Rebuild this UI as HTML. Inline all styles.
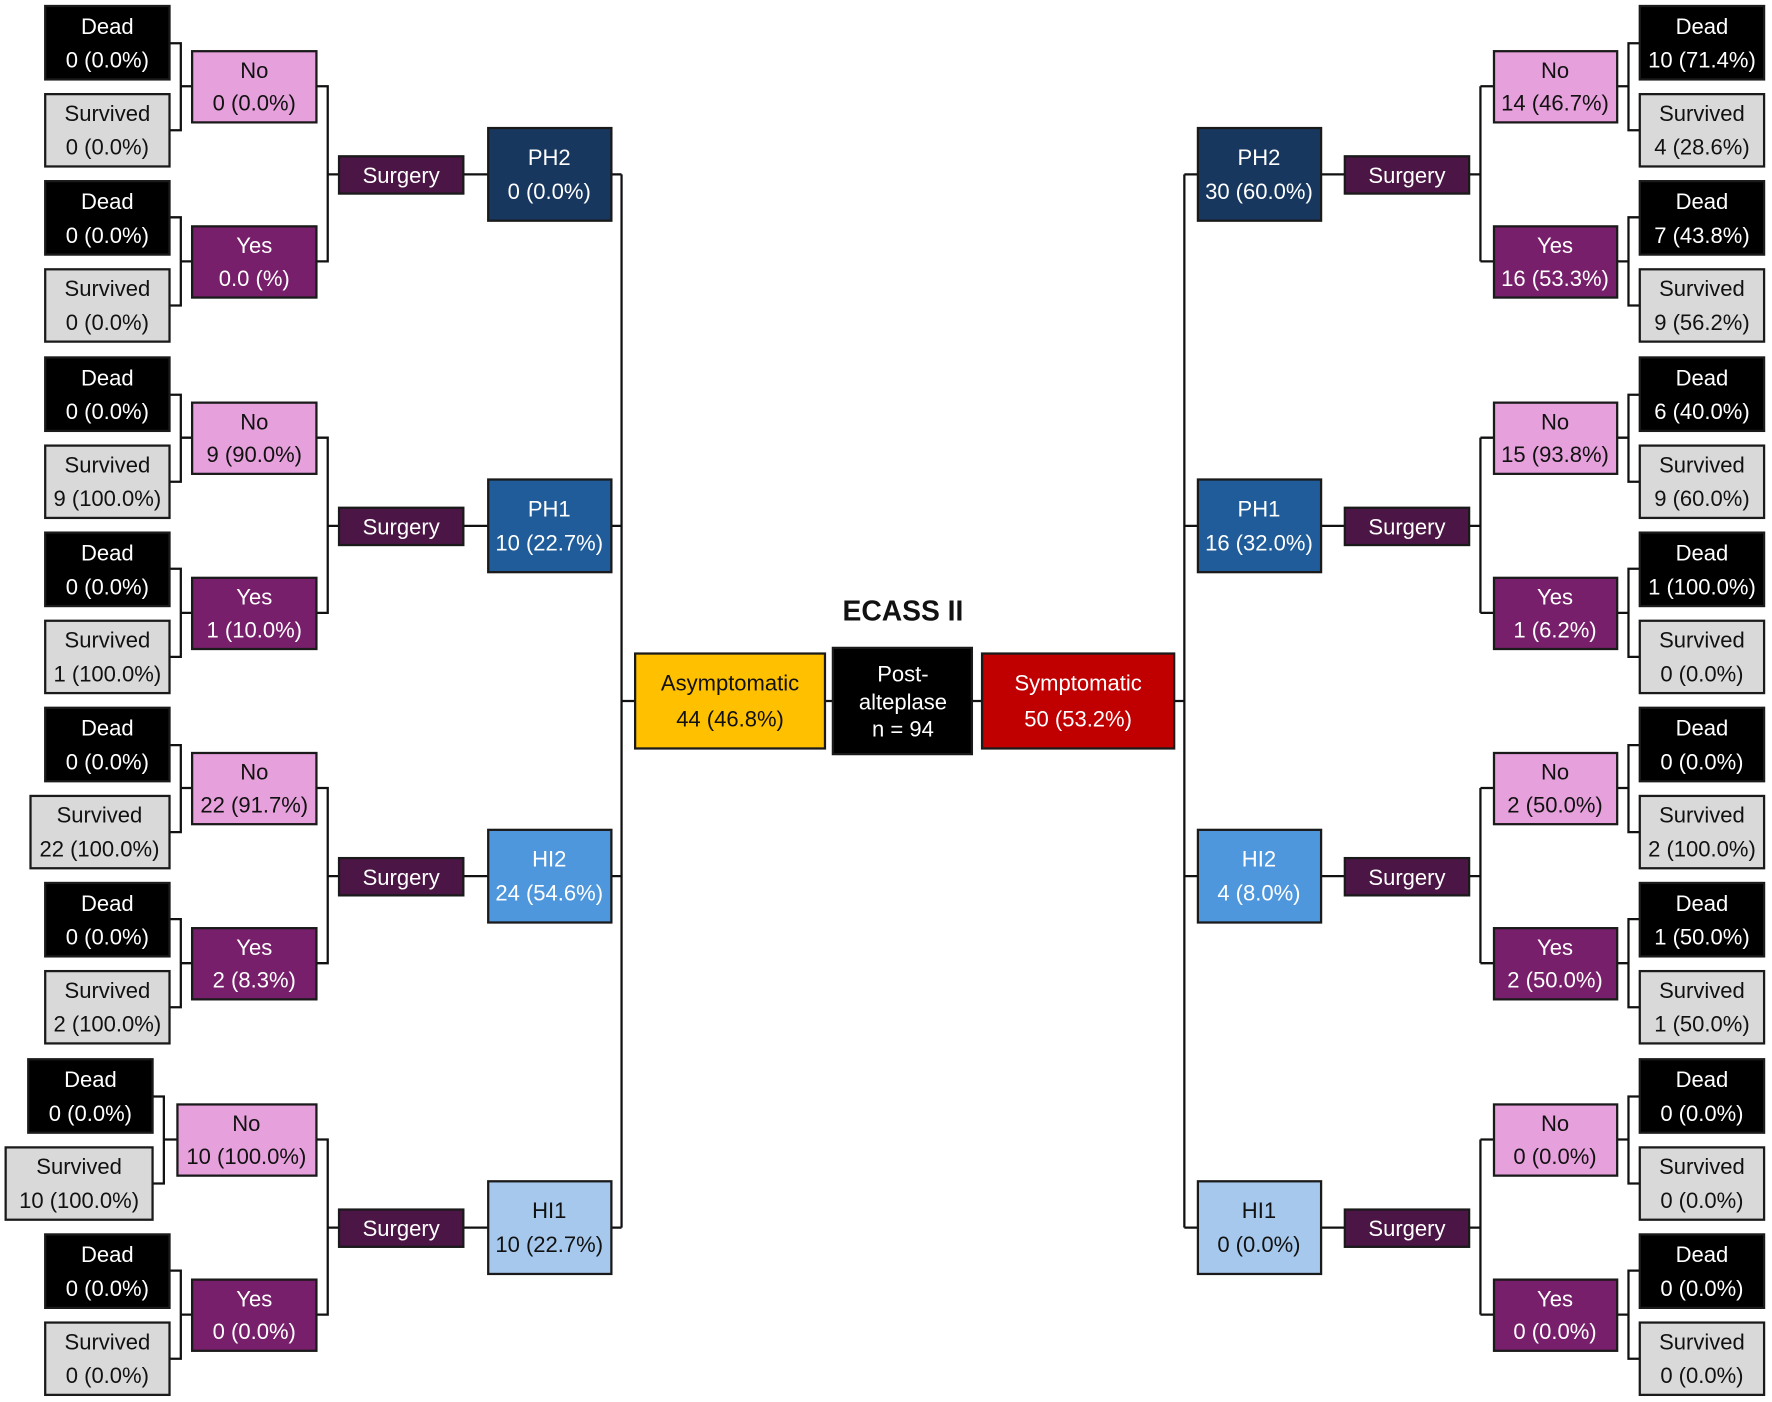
<!DOCTYPE html>
<html><head><meta charset="utf-8"><style>
html,body{margin:0;padding:0;background:#fff}
svg{display:block}
text{font-family:"Liberation Sans","DejaVu Sans",sans-serif;font-size:19.5px;text-anchor:middle;dominant-baseline:central}
.w{fill:#fff}.k{fill:#111}
rect{stroke:#1a1a1a;stroke-width:2}
path{fill:none;stroke:#111;stroke-width:2}
.D{fill:#000}.S{fill:#d9d9d9}.N{fill:#e6a0dc}.Y{fill:#771f6b}.G{fill:#4b1545}
</style></head><body>
<svg width="1772" height="1402" viewBox="0 0 1568 1240" xmlns="http://www.w3.org/2000/svg">
<!-- center -->
<text x="799" y="540" style="font-weight:bold;font-size:25px" class="k">ECASS II</text>
<path d="M550 154V1086M550 620H562M730 620H737M860 620H869M1039 620H1048M1048 154V1086"/>
<rect x="562" y="578" width="168" height="84" fill="#ffc000"/>
<text x="646" y="604" class="k">Asymptomatic</text><text x="646" y="636" class="k">44 (46.8%)</text>
<rect x="737" y="573" width="123" height="94" fill="#000"/>
<text x="799" y="596" class="w">Post-</text><text x="799" y="621" class="w">alteplase</text><text x="799" y="645" class="w">n = 94</text>
<rect x="869" y="578" width="170" height="84" fill="#c00000"/>
<text x="954" y="604" class="w">Symptomatic</text><text x="954" y="636" class="w">50 (53.2%)</text>

<!-- LEFT PH2 -->
<g>
<path d="M150 38H160V115H150M160 76H170M150 192H160V270H150M160 231H170M280 76H290V231H280M290 154H300M410 154H432M541 154H550"/>
<rect class="D" x="40" y="5" width="110" height="65"/><text class="w" x="95" y="23">Dead</text><text class="w" x="95" y="53">0 (0.0%)</text>
<rect class="S" x="40" y="83" width="110" height="64"/><text class="k" x="95" y="100">Survived</text><text class="k" x="95" y="130">0 (0.0%)</text>
<rect class="D" x="40" y="160" width="110" height="65"/><text class="w" x="95" y="178">Dead</text><text class="w" x="95" y="208">0 (0.0%)</text>
<rect class="S" x="40" y="238" width="110" height="64"/><text class="k" x="95" y="255">Survived</text><text class="k" x="95" y="285">0 (0.0%)</text>
<rect class="N" x="170" y="45" width="110" height="63"/><text class="k" x="225" y="62">No</text><text class="k" x="225" y="91">0 (0.0%)</text>
<rect class="Y" x="170" y="200" width="110" height="63"/><text class="w" x="225" y="217">Yes</text><text class="w" x="225" y="246">0.0 (%)</text>
<rect class="G" x="300" y="138" width="110" height="33"/><text class="w" x="355" y="155">Surgery</text>
<rect x="432" y="113" width="109" height="82" fill="#17375e"/><text class="w" x="486" y="139">PH2</text><text class="w" x="486" y="169">0 (0.0%)</text>
</g>
<!-- LEFT PH1 -->
<g transform="translate(0,311)">
<path d="M150 38H160V115H150M160 76H170M150 192H160V270H150M160 231H170M280 76H290V231H280M290 154H300M410 154H432M541 154H550"/>
<rect class="D" x="40" y="5" width="110" height="65"/><text class="w" x="95" y="23">Dead</text><text class="w" x="95" y="53">0 (0.0%)</text>
<rect class="S" x="40" y="83" width="110" height="64"/><text class="k" x="95" y="100">Survived</text><text class="k" x="95" y="130">9 (100.0%)</text>
<rect class="D" x="40" y="160" width="110" height="65"/><text class="w" x="95" y="178">Dead</text><text class="w" x="95" y="208">0 (0.0%)</text>
<rect class="S" x="40" y="238" width="110" height="64"/><text class="k" x="95" y="255">Survived</text><text class="k" x="95" y="285">1 (100.0%)</text>
<rect class="N" x="170" y="45" width="110" height="63"/><text class="k" x="225" y="62">No</text><text class="k" x="225" y="91">9 (90.0%)</text>
<rect class="Y" x="170" y="200" width="110" height="63"/><text class="w" x="225" y="217">Yes</text><text class="w" x="225" y="246">1 (10.0%)</text>
<rect class="G" x="300" y="138" width="110" height="33"/><text class="w" x="355" y="155">Surgery</text>
<rect x="432" y="113" width="109" height="82" fill="#1f5c99"/><text class="w" x="486" y="139">PH1</text><text class="w" x="486" y="169">10 (22.7%)</text>
</g>
<!-- LEFT HI2 -->
<g transform="translate(0,621)">
<path d="M150 38H160V115H150M160 76H170M150 192H160V270H150M160 231H170M280 76H290V231H280M290 154H300M410 154H432M541 154H550"/>
<rect class="D" x="40" y="5" width="110" height="65"/><text class="w" x="95" y="23">Dead</text><text class="w" x="95" y="53">0 (0.0%)</text>
<rect class="S" x="27" y="83" width="123" height="64"/><text class="k" x="88" y="100">Survived</text><text class="k" x="88" y="130">22 (100.0%)</text>
<rect class="D" x="40" y="160" width="110" height="65"/><text class="w" x="95" y="178">Dead</text><text class="w" x="95" y="208">0 (0.0%)</text>
<rect class="S" x="40" y="238" width="110" height="64"/><text class="k" x="95" y="255">Survived</text><text class="k" x="95" y="285">2 (100.0%)</text>
<rect class="N" x="170" y="45" width="110" height="63"/><text class="k" x="225" y="62">No</text><text class="k" x="225" y="91">22 (91.7%)</text>
<rect class="Y" x="170" y="200" width="110" height="63"/><text class="w" x="225" y="217">Yes</text><text class="w" x="225" y="246">2 (8.3%)</text>
<rect class="G" x="300" y="138" width="110" height="33"/><text class="w" x="355" y="155">Surgery</text>
<rect x="432" y="113" width="109" height="82" fill="#4f97dc"/><text class="w" x="486" y="139">HI2</text><text class="w" x="486" y="169">24 (54.6%)</text>
</g>
<!-- LEFT HI1 -->
<g transform="translate(0,932)">
<path d="M135 38H145V115H135M145 76H157M150 192H160V270H150M160 231H170M280 76H290V231H280M290 154H300M410 154H432M541 154H550"/>
<rect class="D" x="25" y="5" width="110" height="65"/><text class="w" x="80" y="23">Dead</text><text class="w" x="80" y="53">0 (0.0%)</text>
<rect class="S" x="5" y="83" width="130" height="64"/><text class="k" x="70" y="100">Survived</text><text class="k" x="70" y="130">10 (100.0%)</text>
<rect class="D" x="40" y="160" width="110" height="65"/><text class="w" x="95" y="178">Dead</text><text class="w" x="95" y="208">0 (0.0%)</text>
<rect class="S" x="40" y="238" width="110" height="64"/><text class="k" x="95" y="255">Survived</text><text class="k" x="95" y="285">0 (0.0%)</text>
<rect class="N" x="157" y="45" width="123" height="63"/><text class="k" x="218" y="62">No</text><text class="k" x="218" y="91">10 (100.0%)</text>
<rect class="Y" x="170" y="200" width="110" height="63"/><text class="w" x="225" y="217">Yes</text><text class="w" x="225" y="246">0 (0.0%)</text>
<rect class="G" x="300" y="138" width="110" height="33"/><text class="w" x="355" y="155">Surgery</text>
<rect x="432" y="113" width="109" height="82" fill="#a6c8ec"/><text class="k" x="486" y="139">HI1</text><text class="k" x="486" y="169">10 (22.7%)</text>
</g>

<!-- RIGHT PH2 -->
<g>
<path d="M1048 154H1060M1169 154H1190M1300 154H1310M1310 76V231M1310 76H1322M1310 231H1322M1431 76H1441V38H1451M1441 76V115H1451M1431 231H1441V192H1451M1441 231V270H1451"/>
<rect x="1060" y="113" width="109" height="82" fill="#17375e"/><text class="w" x="1114" y="139">PH2</text><text class="w" x="1114" y="169">30 (60.0%)</text>
<rect class="G" x="1190" y="138" width="110" height="33"/><text class="w" x="1245" y="155">Surgery</text>
<rect class="N" x="1322" y="45" width="109" height="63"/><text class="k" x="1376" y="62">No</text><text class="k" x="1376" y="91">14 (46.7%)</text>
<rect class="Y" x="1322" y="200" width="109" height="63"/><text class="w" x="1376" y="217">Yes</text><text class="w" x="1376" y="246">16 (53.3%)</text>
<rect class="D" x="1451" y="5" width="110" height="65"/><text class="w" x="1506" y="23">Dead</text><text class="w" x="1506" y="53">10 (71.4%)</text>
<rect class="S" x="1451" y="83" width="110" height="64"/><text class="k" x="1506" y="100">Survived</text><text class="k" x="1506" y="130">4 (28.6%)</text>
<rect class="D" x="1451" y="160" width="110" height="65"/><text class="w" x="1506" y="178">Dead</text><text class="w" x="1506" y="208">7 (43.8%)</text>
<rect class="S" x="1451" y="238" width="110" height="64"/><text class="k" x="1506" y="255">Survived</text><text class="k" x="1506" y="285">9 (56.2%)</text>
</g>
<!-- RIGHT PH1 -->
<g transform="translate(0,311)">
<path d="M1048 154H1060M1169 154H1190M1300 154H1310M1310 76V231M1310 76H1322M1310 231H1322M1431 76H1441V38H1451M1441 76V115H1451M1431 231H1441V192H1451M1441 231V270H1451"/>
<rect x="1060" y="113" width="109" height="82" fill="#1f5c99"/><text class="w" x="1114" y="139">PH1</text><text class="w" x="1114" y="169">16 (32.0%)</text>
<rect class="G" x="1190" y="138" width="110" height="33"/><text class="w" x="1245" y="155">Surgery</text>
<rect class="N" x="1322" y="45" width="109" height="63"/><text class="k" x="1376" y="62">No</text><text class="k" x="1376" y="91">15 (93.8%)</text>
<rect class="Y" x="1322" y="200" width="109" height="63"/><text class="w" x="1376" y="217">Yes</text><text class="w" x="1376" y="246">1 (6.2%)</text>
<rect class="D" x="1451" y="5" width="110" height="65"/><text class="w" x="1506" y="23">Dead</text><text class="w" x="1506" y="53">6 (40.0%)</text>
<rect class="S" x="1451" y="83" width="110" height="64"/><text class="k" x="1506" y="100">Survived</text><text class="k" x="1506" y="130">9 (60.0%)</text>
<rect class="D" x="1451" y="160" width="110" height="65"/><text class="w" x="1506" y="178">Dead</text><text class="w" x="1506" y="208">1 (100.0%)</text>
<rect class="S" x="1451" y="238" width="110" height="64"/><text class="k" x="1506" y="255">Survived</text><text class="k" x="1506" y="285">0 (0.0%)</text>
</g>
<!-- RIGHT HI2 -->
<g transform="translate(0,621)">
<path d="M1048 154H1060M1169 154H1190M1300 154H1310M1310 76V231M1310 76H1322M1310 231H1322M1431 76H1441V38H1451M1441 76V115H1451M1431 231H1441V192H1451M1441 231V270H1451"/>
<rect x="1060" y="113" width="109" height="82" fill="#4f97dc"/><text class="w" x="1114" y="139">HI2</text><text class="w" x="1114" y="169">4 (8.0%)</text>
<rect class="G" x="1190" y="138" width="110" height="33"/><text class="w" x="1245" y="155">Surgery</text>
<rect class="N" x="1322" y="45" width="109" height="63"/><text class="k" x="1376" y="62">No</text><text class="k" x="1376" y="91">2 (50.0%)</text>
<rect class="Y" x="1322" y="200" width="109" height="63"/><text class="w" x="1376" y="217">Yes</text><text class="w" x="1376" y="246">2 (50.0%)</text>
<rect class="D" x="1451" y="5" width="110" height="65"/><text class="w" x="1506" y="23">Dead</text><text class="w" x="1506" y="53">0 (0.0%)</text>
<rect class="S" x="1451" y="83" width="110" height="64"/><text class="k" x="1506" y="100">Survived</text><text class="k" x="1506" y="130">2 (100.0%)</text>
<rect class="D" x="1451" y="160" width="110" height="65"/><text class="w" x="1506" y="178">Dead</text><text class="w" x="1506" y="208">1 (50.0%)</text>
<rect class="S" x="1451" y="238" width="110" height="64"/><text class="k" x="1506" y="255">Survived</text><text class="k" x="1506" y="285">1 (50.0%)</text>
</g>
<!-- RIGHT HI1 -->
<g transform="translate(0,932)">
<path d="M1048 154H1060M1169 154H1190M1300 154H1310M1310 76V231M1310 76H1322M1310 231H1322M1431 76H1441V38H1451M1441 76V115H1451M1431 231H1441V192H1451M1441 231V270H1451"/>
<rect x="1060" y="113" width="109" height="82" fill="#a6c8ec"/><text class="k" x="1114" y="139">HI1</text><text class="k" x="1114" y="169">0 (0.0%)</text>
<rect class="G" x="1190" y="138" width="110" height="33"/><text class="w" x="1245" y="155">Surgery</text>
<rect class="N" x="1322" y="45" width="109" height="63"/><text class="k" x="1376" y="62">No</text><text class="k" x="1376" y="91">0 (0.0%)</text>
<rect class="Y" x="1322" y="200" width="109" height="63"/><text class="w" x="1376" y="217">Yes</text><text class="w" x="1376" y="246">0 (0.0%)</text>
<rect class="D" x="1451" y="5" width="110" height="65"/><text class="w" x="1506" y="23">Dead</text><text class="w" x="1506" y="53">0 (0.0%)</text>
<rect class="S" x="1451" y="83" width="110" height="64"/><text class="k" x="1506" y="100">Survived</text><text class="k" x="1506" y="130">0 (0.0%)</text>
<rect class="D" x="1451" y="160" width="110" height="65"/><text class="w" x="1506" y="178">Dead</text><text class="w" x="1506" y="208">0 (0.0%)</text>
<rect class="S" x="1451" y="238" width="110" height="64"/><text class="k" x="1506" y="255">Survived</text><text class="k" x="1506" y="285">0 (0.0%)</text>
</g>
</svg>
</body></html>
